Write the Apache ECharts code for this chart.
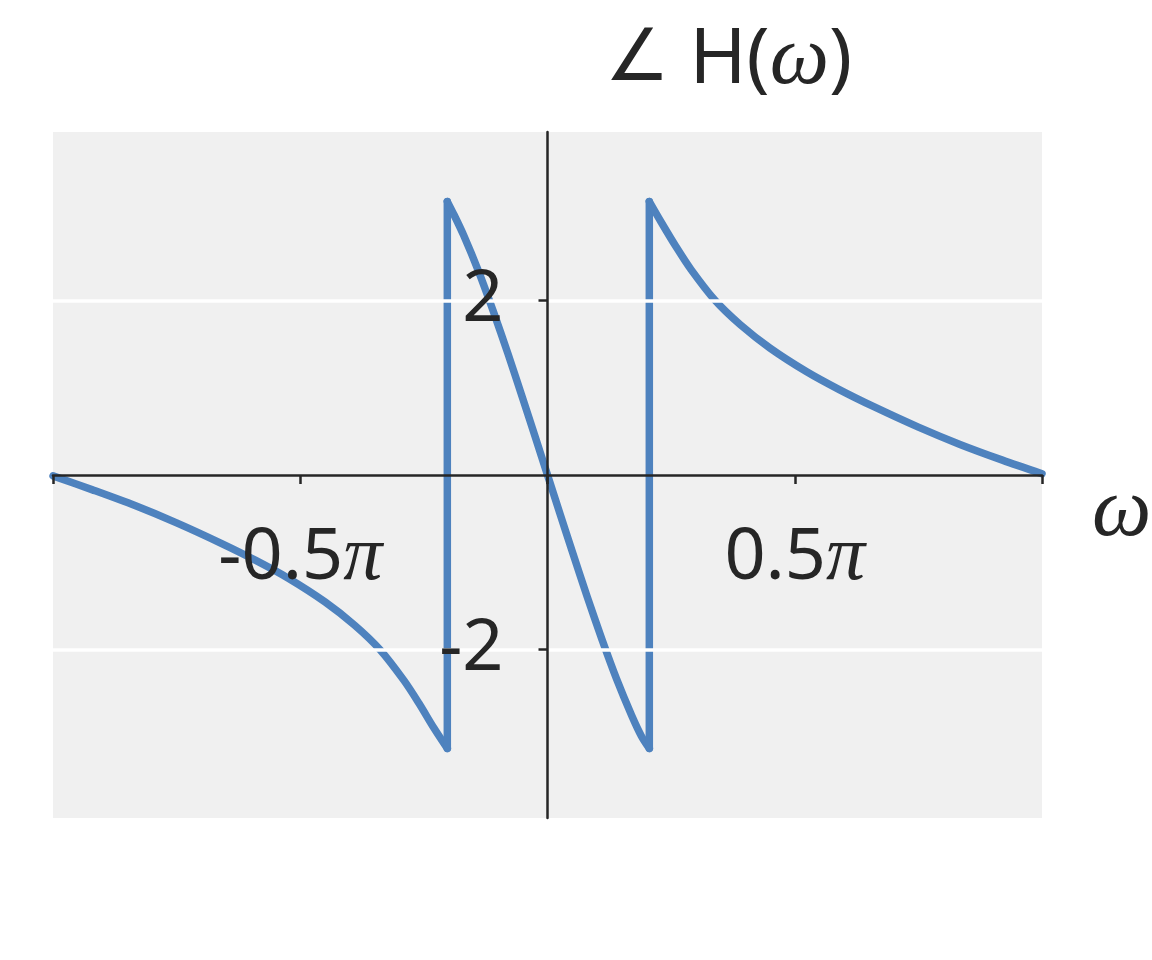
<!DOCTYPE html>
<html>
<head>
<meta charset="utf-8">
<script src="https://cdn.jsdelivr.net/npm/echarts@6/dist/echarts.min.js"></script>
<style>html,body{margin:0;padding:0;background:#fff}#c{width:1152px;height:960px}</style>
</head>
<body>
<div id="c"></div>
<script>
// ---- data (omega in units of pi, phase in radians) ----
const xTickValues = [-1, -0.5, 0, 0.5, 1];
const xTickLabels = ['', '-0.5', '', '0.5', ''];
const yTickValues = [-2, 2];
const yTickLabels = ['-2', '2'];

const leftOmega = [-1.0, -0.92, -0.8342, -0.75, -0.6588, -0.59, -0.5242, -0.45, -0.39, -0.3387, -0.29, -0.26, -0.23, -0.2026];
const leftPhase = [-0.01, -0.17, -0.35, -0.548, -0.785, -0.978, -1.182, -1.453, -1.72, -2.0, -2.354, -2.613, -2.894, -3.13];

const jumpLeftOmega = [-0.2026, -0.2026];
const jumpLeftPhase = [-3.13, 3.13];

const midOmega = [-0.2026, -0.19, -0.17, -0.14, -0.11, -0.08, -0.05, -0.025, 0.0, 0.025, 0.05, 0.08, 0.11, 0.14, 0.17, 0.19, 0.2059];
const midPhase = [3.13, 2.99, 2.75, 2.34, 1.88, 1.39, 0.875, 0.44, 0.0, -0.44, -0.875, -1.39, -1.88, -2.34, -2.75, -2.99, -3.13];

const jumpRightOmega = [0.2059, 0.2059];
const jumpRightPhase = [-3.13, 3.13];

const rightOmega = [0.2059, 0.23, 0.26, 0.29, 0.3387, 0.39, 0.45, 0.5242, 0.59, 0.6588, 0.75, 0.8342, 0.92, 1.0];
const rightPhase = [3.13, 2.894, 2.613, 2.354, 2.0, 1.72, 1.453, 1.182, 0.978, 0.785, 0.548, 0.35, 0.17, 0.014];

// ---- chart ----
const ink = '#262626';
const lineColor = '#4e82be';
function pairs(xs, ys) { return xs.map((x, i) => [x, ys[i]]); }
function seg(xs, ys, smooth) {
  return {
    type: 'line', data: pairs(xs, ys), smooth: smooth, showSymbol: false, symbol: 'none',
    silent: true, z: 2, clip: true,
    lineStyle: { color: lineColor, width: 7.5, cap: 'round', join: 'round' }
  };
}
const chart = echarts.init(document.getElementById('c'), null, { renderer: 'canvas' });
chart.setOption({
  animation: false,
  backgroundColor: '#ffffff',
  title: {
    text: '{a|∠}{b|H(}{c|ω}{b|)}',
    left: 600, top: 14,
    textStyle: {
      color: ink, fontWeight: 'normal',
      rich: {
        a: { fontFamily: 'DejaVu Sans', fontSize: 72, fontWeight: 'normal', color: ink, padding: [0, 20, 0, 0] },
        b: { fontFamily: 'Noto Sans', fontSize: 77, fontWeight: 'normal', color: ink },
        c: { fontFamily: 'Liberation Serif', fontStyle: 'italic', fontWeight: 'normal', fontSize: 84, color: ink }
      }
    }
  },
  grid: {
    left: 53, right: 110, top: 132, bottom: 142,
    containLabel: false, outerBoundsMode: 'none',
    show: true, backgroundColor: '#f0f0f0', borderWidth: 0
  },
  xAxis: {
    type: 'value', min: -1, max: 1, interval: 0.5, z: 10,
    position: 'bottom', offset: -343,
    name: '{w|ω}', nameLocation: 'end', nameGap: 50,
    nameTextStyle: {
      padding: [76, 0, 0, 0],
      rich: { w: { fontFamily: 'Liberation Serif', fontStyle: 'italic', fontSize: 84, color: ink } }
    },
    axisLine: { onZero: false, lineStyle: { color: ink, width: 2.5 } },
    axisTick: { show: true, length: 9, lineStyle: { color: ink, width: 2.5 } },
    axisLabel: {
      margin: 44, color: ink, hideOverlap: false,
      formatter: function (v) {
        const i = xTickValues.findIndex(t => Math.abs(t - v) < 1e-9);
        const s = i >= 0 ? xTickLabels[i] : '';
        return s ? '{n|' + s + '}{p|π}' : '';
      },
      rich: {
        n: { fontFamily: 'Noto Sans', fontSize: 72, color: ink },
        p: { fontFamily: 'Liberation Serif', fontStyle: 'italic', fontSize: 78, color: ink }
      }
    },
    splitLine: { show: false }
  },
  yAxis: {
    type: 'value', min: -1.25 * Math.PI, max: 1.25 * Math.PI, z: 10,
    position: 'left', offset: -494.5,
    axisLine: { onZero: false, lineStyle: { color: ink, width: 2.5 } },
    axisTick: { show: true, customValues: yTickValues, length: 9, lineStyle: { color: ink, width: 2.5 } },
    axisLabel: {
      customValues: yTickValues, margin: 44, color: ink, fontFamily: 'Noto Sans', fontSize: 72,
      formatter: function (v) {
        const i = yTickValues.findIndex(t => Math.abs(t - v) < 1e-9);
        return i >= 0 ? yTickLabels[i] : '';
      }
    },
    splitLine: { show: true, lineStyle: { color: '#ffffff', width: 3.5 } }
  },
  series: [
    seg(leftOmega, leftPhase, 0.3),
    seg(jumpLeftOmega, jumpLeftPhase, false),
    seg(midOmega, midPhase, 0.3),
    seg(jumpRightOmega, jumpRightPhase, false),
    seg(rightOmega, rightPhase, 0.3)
  ]
});
</script>
</body>
</html>
